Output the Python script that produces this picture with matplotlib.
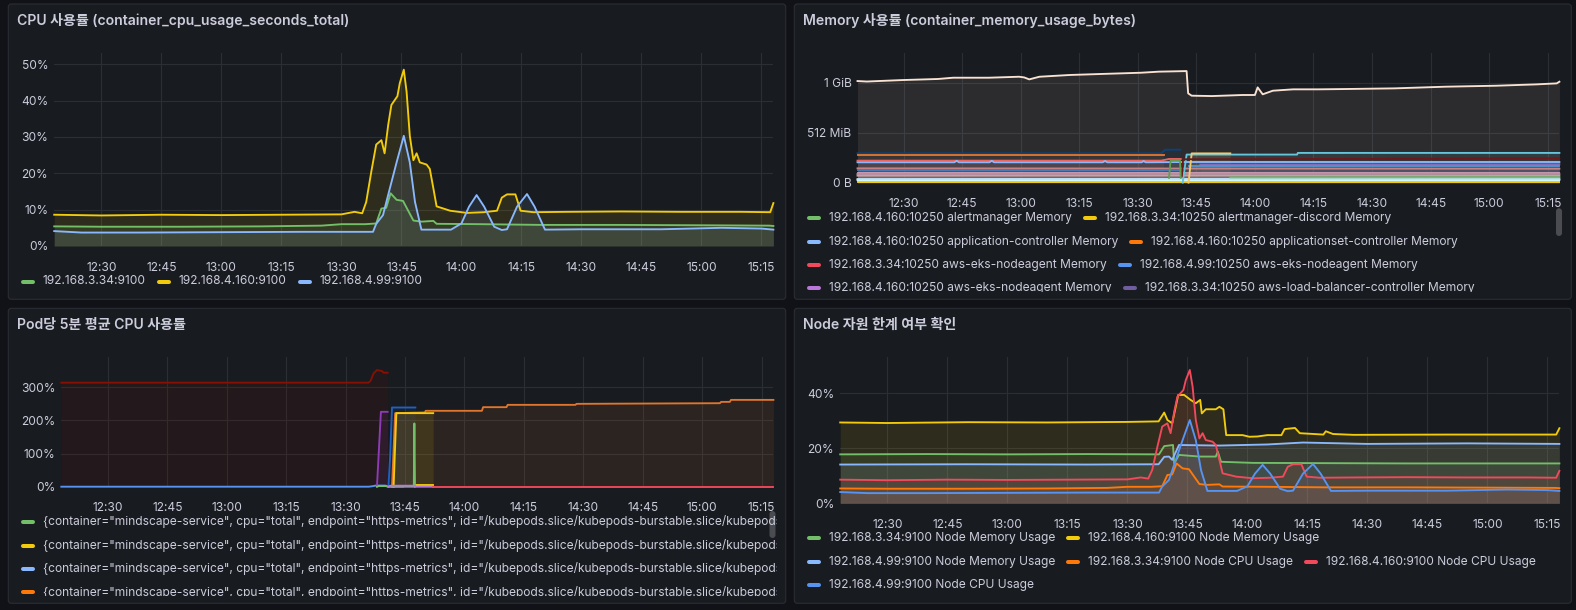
import matplotlib
matplotlib.use('Agg')
import matplotlib.pyplot as plt
from matplotlib.patches import FancyBboxPatch
from matplotlib.lines import Line2D
from matplotlib.transforms import Bbox, TransformedBbox

W, H = 1576, 610
FAM = ['Inter', 'Noto Sans CJK KR', 'DejaVu Sans']
plt.rcParams['font.family'] = FAM

# ------------------------------------------------------------------ data
time_ticks = [30, 45, 60, 75, 90, 105, 120, 135, 150, 165, 180, 195]   # minutes after 12:00
time_labels = ['12:30', '12:45', '13:00', '13:15', '13:30', '13:45',
               '14:00', '14:15', '14:30', '14:45', '15:00', '15:15']
T0, T1 = 18.2, 198.0

titles = ['CPU 사용률 (container_cpu_usage_seconds_total)',
          'Memory 사용률 (container_memory_usage_bytes)',
          'Pod당 5분 평균 CPU 사용률',
          'Node 자원 한계 여부 확인']

# node CPU usage (%), shared by panel 1 and panel 4
cpu_334_t = [18.2, 30, 50, 70, 85, 90, 96, 98.7, 100.0, 101.2, 102.3, 103.8, 105.4, 106.7,
             108.0, 110, 113.0, 113.8, 125, 140, 160, 180, 197, 198]
cpu_334_v = [5.4, 5.3, 5.3, 5.4, 5.6, 6.0, 6.0, 6.2, 10.3, 10.5, 14.5, 12.7, 12.4, 9.7,
             7.0, 6.7, 6.9, 6.1, 6.0, 5.8, 5.8, 5.7, 5.6, 5.5]
cpu_4160_t = [18.2, 30, 45, 60, 75, 90, 93.3, 95.2, 96.2, 97.5, 98.7, 100.0, 100.8, 101.7,
              102.5, 104.0, 104.6, 105.6, 106.3, 107.1, 108.0, 108.8, 109.6, 111.3, 112.1,
              113.0, 113.8, 115.5, 117.2, 121.4, 125.6, 128.9, 130.1, 131.4, 133.5, 134.8,
              138.0, 146.5, 160, 175, 190, 197.2, 198.0]
cpu_4160_v = [8.6, 8.4, 8.6, 8.5, 8.6, 8.7, 9.4, 9.0, 12.1, 20.6, 27.9, 29.1, 25.5, 33.3,
              38.8, 41.2, 44.8, 48.5, 42.4, 30.3, 23.6, 25.5, 23.0, 22.4, 21.2,
              15.8, 10.9, 10.3, 9.7, 9.1, 9.3, 9.7, 13.3, 14.2, 14.2, 9.7,
              9.3, 9.4, 9.5, 9.4, 9.4, 9.3, 11.8]
cpu_499_t = [18.2, 25, 40, 60, 80, 97.9, 98.7, 100.4, 102.1, 103.8, 105.6, 107.1, 108.4,
             110.0, 117.4, 120.0, 121.9, 123.8, 125.7, 128.2, 130.1, 131.4, 133.9, 136.4,
             138.3, 140.9, 150, 170, 185, 195, 198]
cpu_499_v = [4.1, 3.7, 3.7, 3.8, 3.9, 3.9, 6.1, 8.5, 15.8, 23.0, 30.3, 23.0, 12.1,
             4.5, 4.5, 6.2, 10.8, 14.0, 10.8, 5.3, 4.4, 4.6, 10.8, 14.3,
             10.8, 4.5, 4.6, 4.6, 5.0, 4.8, 4.5]

# node memory usage (%)
mem_334_t = [18.2, 40, 60, 80, 97.9, 99.2, 101.4, 101.7, 102.9, 108.0, 112.1, 112.6, 113.4,
             121.4, 140, 160, 180, 198]
mem_334_v = [17.8, 17.9, 17.8, 17.9, 17.8, 20.8, 21.2, 14.5, 17.6, 17.0, 17.0, 18.8, 15.1,
             14.7, 14.6, 14.5, 14.5, 14.5]
mem_4160_t = [18.2, 30, 50, 70, 90, 97.8, 99.2, 100.0, 101.2, 102.7, 104.2, 105.8, 107.1,
              108.2, 108.6, 109.6, 112.1, 113.0, 114.0, 114.7, 118.8, 120.5, 122.5, 125,
              128.5, 129.3, 131.9, 133.1, 139.0, 139.6, 141.4, 146.5, 170, 197.2, 198]
mem_4160_v = [29.4, 29.2, 29.5, 29.4, 29.6, 29.8, 33.0, 30.3, 29.1, 39.4, 39.4, 37.6, 36.4,
              37.6, 32.7, 34.2, 34.2, 35.1, 34.2, 24.8, 24.8, 24.2, 24.3, 24.8,
              24.8, 27.0, 27.4, 25.5, 25.0, 26.2, 25.2, 24.9, 25.0, 25.0, 27.3]
mem_499_t = [18.2, 50, 80, 97.8, 99.2, 100.4, 101.2, 102.9, 113.0, 125, 133.9, 150, 175, 198]
mem_499_v = [14.1, 14.2, 14.1, 14.2, 16.9, 17.0, 15.8, 21.2, 21.0, 21.4, 22.1, 21.6, 21.8, 21.6]

cpu_legend = ['192.168.3.34:9100', '192.168.4.160:9100', '192.168.4.99:9100']
node_legend = ['192.168.3.34:9100 Node Memory Usage', '192.168.4.160:9100 Node Memory Usage',
               '192.168.4.99:9100 Node Memory Usage', '192.168.3.34:9100 Node CPU Usage',
               '192.168.4.160:9100 Node CPU Usage', '192.168.4.99:9100 Node CPU Usage']

# container memory (MiB)
cream_t = [18.2, 20.6, 29.7, 38.8, 42.7, 51.8, 59.6, 60.9, 62.2, 64.8, 72.6, 80.4, 90.8,
           95.4, 102.5, 102.9, 103.8, 109.0, 116.8, 120.0, 120.7, 122.0, 124.6, 129.8,
           136.3, 142.8, 155.8, 168.8, 181.8, 192.2, 197.3, 198.0]
cream_v = [1041, 1036, 1051, 1062, 1075, 1075, 1085, 1078, 1058, 1085, 1103, 1113, 1126,
           1137, 1143, 915, 891, 887, 898, 898, 976, 905, 942, 956,
           956, 959, 966, 983, 993, 1007, 1017, 1034]
navy_t = [18.2, 96.0, 97.0, 100.9]
navy_v = [301, 301, 338, 338]
orange_mem_t = [18.2, 96.6]
orange_mem_v = [285, 285]
salmon_t = [18.2, 96.0, 98.0, 101.0]
salmon_v = [226, 226, 243, 243]
lblue_t = [18.2, 43.0, 43.6, 44.2, 52.0, 52.6, 53.2, 81.0, 81.6, 82.2, 91.0, 91.5, 92.0, 103.0, 198.0]
lblue_v = [209, 209, 224, 209, 209, 224, 209, 209, 222, 209, 209, 222, 209, 212, 212]
pink_t = [18.2, 198.0]
pink_v = [147, 143]
steel_t = [18.2, 101.0]
steel_v = [130, 130]
violet_t = [106.0, 198.0]
violet_v = [185, 188]
blue_mem_t = [103.0, 198.0]
blue_mem_v = [166, 166]
orchid_t = [18.2, 198.0]
orchid_v = [100, 100]
mauve_t = [18.2, 198.0]
mauve_v = [89, 92]
peach_t = [18.2, 198.0]
peach_v = [72, 74]
ice_t = [18.2, 198.0]
ice_v = [38, 40]
lav_t = [18.2, 198.0]
lav_v = [27, 28]
white_t = [18.2, 198.0]
white_v = [18, 18]
gold_low_t = [18.2, 198.0]
gold_low_v = [8, 8]
cyan_t = [101.5, 102.5, 130.8, 131.0, 198.0]
cyan_v = [0, 288, 288, 305, 305]
gold_t = [103.0, 103.8, 113.7]
gold_v = [0, 300, 300]
maroon_t = [101.3, 101.6, 198.0]
maroon_v = [70, 240, 248]
green_a_t = [98.0, 98.4, 100.8, 101.0]
green_a_v = [50, 226, 226, 50]
green_b_t = [113.7, 198.0]
green_b_v = [54, 56]

mem_legend = ['192.168.4.160:10250 alertmanager Memory', '192.168.3.34:10250 alertmanager-discord Memory',
              '192.168.4.160:10250 application-controller Memory', '192.168.4.160:10250 applicationset-controller Memory',
              '192.168.3.34:10250 aws-eks-nodeagent Memory', '192.168.4.99:10250 aws-eks-nodeagent Memory',
              '192.168.4.160:10250 aws-eks-nodeagent Memory', '192.168.3.34:10250 aws-load-balancer-controller Memory']

# pod CPU 5m average (%)
pod_darkred_t = [18.2, 95.8, 96.3, 97.05, 97.9, 99.2, 99.6, 100.6]
pod_darkred_v = [314, 314, 320, 342, 352, 349, 344, 344]
pod_blue_t = [18.2, 95.8, 96.8, 97.6, 100.0, 100.6, 101.0, 104.5]
pod_blue_v = [0, 0, 1.5, 3.5, 3.5, 1.0, 0.5, 0.5]
pod_purple_t = [97.9, 98.9, 100.6]
pod_purple_v = [0, 226, 226]
pod_navy_t = [100.8, 101.2, 101.7, 107.6]
pod_navy_v = [0, 85, 239, 239]
pod_orange_t = [101.7, 102.5, 110.0, 110.2, 124.4, 124.7, 130.6, 130.9, 148.0, 148.3,
                184.5, 184.8, 187.0, 187.3, 198.0]
pod_orange_v = [0, 222, 224, 229, 229, 240, 240, 247, 247, 250, 252, 256, 256, 262, 262]
pod_yellow_t = [102.1, 102.8, 112.1]
pod_yellow_v = [0, 222, 222]
pod_yellow2_t = [107.6, 112.1]
pod_yellow2_v = [4, 4]
pod_green_t = [97.9, 98.4, 100.2, 100.6, 107.2, 107.35, 107.5]
pod_green_v = [0, 2, 2, 0, 0, 191, 0]
pod_pink_t = [100.8, 101.3, 107.4, 107.7, 112.1]
pod_pink_v = [0, 3, 3, 0, 0]
pod_red_t = [112.1, 198.0]
pod_red_v = [0, 0]

pod_label = ('{container="mindscape-service", cpu="total", endpoint="https-metrics", '
             'id="/kubepods.slice/kubepods-burstable.slice/kubepods-burstable-pod.slice"}')
pod_legend = [pod_label, pod_label, pod_label, pod_label]

# ------------------------------------------------------------------ style
BG = '#111217'
PANEL = '#181b1f'
BORDER = '#2a2d33'
TXT = '#ccccdc'
GRID = '#2b2e33'
C_GREEN, C_YELLOW, C_LBLUE = '#73BF69', '#F2CC0C', '#8AB8FF'
C_ORANGE, C_RED, C_BLUE = '#FF780A', '#F2495C', '#5794F2'
C_PURPLE, C_DPURPLE = '#B877D9', '#705DA0'

fig = plt.figure(figsize=(W / 100, H / 100), dpi=100, facecolor=BG)
ov = fig.add_axes([0, 0, 1, 1], zorder=0)
ov.set_xlim(0, W)
ov.set_ylim(H, 0)
ov.axis('off')


def px_rect(x0, y0, x1, y1):
    return [x0 / W, 1 - y1 / H, (x1 - x0) / W, (y1 - y0) / H]


panels = [(8.3, 4.0, 785.7, 299.3), (794.3, 4.0, 1571.3, 299.3),
          (8.3, 308.3, 785.7, 603.3), (794.3, 308.3, 1571.3, 603.3)]
for (x0, y0, x1, y1), title in zip(panels, titles):
    ov.add_patch(FancyBboxPatch((x0, y0), x1 - x0, y1 - y0,
                                boxstyle='round,pad=0,rounding_size=3',
                                fc=PANEL, ec=BORDER, lw=0.8))
    ov.text(x0 + 9.2, y0 + 17, title, color=TXT, fontsize=10.1, fontweight='semibold',
            va='center', ha='left')


def setup_axes(x0, y0, x1, y1, ymax, yticks, ylabels):
    ax = fig.add_axes(px_rect(x0, y0, x1, y1), zorder=2)
    ax.set_facecolor('none')
    for s in ax.spines.values():
        s.set_visible(False)
    ax.set_xlim(T0, T1)
    ax.set_ylim(0, ymax)
    ax.set_xticks(time_ticks, time_labels)
    ax.set_yticks(yticks, ylabels)
    ax.tick_params(axis='both', length=0, labelsize=8.64, labelcolor=TXT)
    ax.tick_params(axis='x', pad=11.3)
    ax.tick_params(axis='y', pad=4.3)
    ax.grid(True, color=GRID, lw=0.8)
    ax.set_axisbelow(True)
    return ax


def series(ax, t, v, color, lw=1.35, alpha=0.1):
    ax.fill_between(t, v, 0, color=color, alpha=alpha, lw=0)
    ax.plot(t, v, color=color, lw=lw, clip_on=False, solid_joinstyle='round')


renderer = fig.canvas.get_renderer()


def legend(rows, x_start, rows_y, clip=None):
    for row, y in zip(rows, rows_y):
        x = x_start
        for label, color in row:
            ln = Line2D([x + 2, x + 12], [y, y], color=color, lw=2.9, solid_capstyle='round')
            ov.add_line(ln)
            t = ov.text(x + 22, y, label, color=TXT, fontsize=8.64, va='center', ha='left')
            if clip is not None:
                cb = TransformedBbox(Bbox.from_extents(clip[0], clip[1], clip[2], clip[3]),
                                     ov.transData)
                t.set_clip_on(True)
                t.set_clip_box(cb)
                t.set_clip_path(None)
                ln.set_clip_on(True)
                ln.set_clip_box(cb)
                ln.set_clip_path(None)
            w = t.get_window_extent(renderer=renderer).width
            x = x + 22 + w + 11


# ---------------- panel 1: CPU
ax1 = setup_axes(54.2, 53.3, 773.4, 246.0, 53.0, [0, 10, 20, 30, 40, 50],
                 ['0%', '10%', '20%', '30%', '40%', '50%'])
series(ax1, cpu_334_t, cpu_334_v, C_GREEN)
series(ax1, cpu_4160_t, cpu_4160_v, C_YELLOW)
series(ax1, cpu_499_t, cpu_499_v, C_LBLUE)
legend([list(zip(cpu_legend, [C_GREEN, C_YELLOW, C_LBLUE]))], 21, [281.5])

# ---------------- panel 2: memory
ax2 = setup_axes(857.5, 53.3, 1559.4, 182.7, 1325, [0, 512, 1024], ['0 B', '512 MiB', '1 GiB'])
series(ax2, cream_t, cream_v, '#F9E2D2', alpha=0.09)
series(ax2, navy_t, navy_v, '#0A437C')
series(ax2, orange_mem_t, orange_mem_v, '#E0752D')
series(ax2, salmon_t, salmon_v, '#EA6460')
series(ax2, lblue_t, lblue_v, '#8AB8FF')
series(ax2, pink_t, pink_v, '#C48282')
series(ax2, steel_t, steel_v, '#447EBC')
series(ax2, violet_t, violet_v, '#806EB7')
series(ax2, blue_mem_t, blue_mem_v, '#5195CE')
series(ax2, orchid_t, orchid_v, '#D19CB0')
series(ax2, mauve_t, mauve_v, '#B48EAE')
series(ax2, peach_t, peach_v, '#C9A19A')
series(ax2, ice_t, ice_v, '#BADFF4')
series(ax2, lav_t, lav_v, '#DEDAF7')
series(ax2, white_t, white_v, '#CFFAFF')
series(ax2, gold_low_t, gold_low_v, C_YELLOW)
series(ax2, cyan_t, cyan_v, '#65C5DB')
series(ax2, gold_t, gold_v, '#F2C96D')
series(ax2, maroon_t, maroon_v, '#6A1A1A')
series(ax2, green_a_t, green_a_v, '#629E51')
series(ax2, green_b_t, green_b_v, C_GREEN)
mem_cols = [C_GREEN, C_YELLOW, C_LBLUE, C_ORANGE, C_RED, C_BLUE, C_PURPLE, C_DPURPLE]
mem_items = list(zip(mem_legend, mem_cols))
legend([mem_items[0:2], mem_items[2:4], mem_items[4:6], mem_items[6:8]], 807, [218.3, 241.7, 265.0, 288.3],
       clip=(795, 205, 1552, 291.7))
ov.add_patch(FancyBboxPatch((1556, 208.3), 6, 27.7, boxstyle='round,pad=0,rounding_size=3',
                            fc='#4a4c52', ec='none'))

# ---------------- panel 3: pod CPU
ax3 = setup_axes(61.3, 357.3, 773.4, 486.7, 390.5, [0, 100, 200, 300], ['0%', '100%', '200%', '300%'])
series(ax3, pod_darkred_t, pod_darkred_v, '#890F02')
series(ax3, pod_blue_t, pod_blue_v, C_BLUE)
series(ax3, pod_purple_t, pod_purple_v, '#8F3BB8')
series(ax3, pod_navy_t, pod_navy_v, '#1F60C4')
series(ax3, pod_orange_t, pod_orange_v, '#E0752D')
series(ax3, pod_yellow_t, pod_yellow_v, C_YELLOW)
series(ax3, pod_yellow2_t, pod_yellow2_v, C_YELLOW)
series(ax3, pod_green_t, pod_green_v, C_GREEN)
series(ax3, pod_pink_t, pod_pink_v, C_PURPLE)
series(ax3, pod_red_t, pod_red_v, C_RED)
pod_items = list(zip(pod_legend, [C_GREEN, C_YELLOW, C_LBLUE, C_ORANGE]))
legend([[p] for p in pod_items], 21, [521.7, 545.7, 568.7, 592.3], clip=(9, 508, 777, 595.7))
ov.add_patch(FancyBboxPatch((769.5, 511.0), 6, 27.0, boxstyle='round,pad=0,rounding_size=3',
                            fc='#4a4c52', ec='none'))

# ---------------- panel 4: node
ax4 = setup_axes(840.2, 357.3, 1559.4, 503.3, 53.1, [0, 20, 40], ['0%', '20%', '40%'])
series(ax4, mem_334_t, mem_334_v, C_GREEN)
series(ax4, mem_4160_t, mem_4160_v, C_YELLOW)
series(ax4, mem_499_t, mem_499_v, C_LBLUE)
series(ax4, cpu_334_t, cpu_334_v, C_ORANGE)
series(ax4, cpu_4160_t, cpu_4160_v, C_RED)
series(ax4, cpu_499_t, cpu_499_v, C_BLUE)
node_items = list(zip(node_legend, [C_GREEN, C_YELLOW, C_LBLUE, C_ORANGE, C_RED, C_BLUE]))
legend([node_items[0:2], node_items[2:5], node_items[5:6]], 807, [537.7, 561.7, 585.0])

fig.savefig('out.png', dpi=100, facecolor=BG)
